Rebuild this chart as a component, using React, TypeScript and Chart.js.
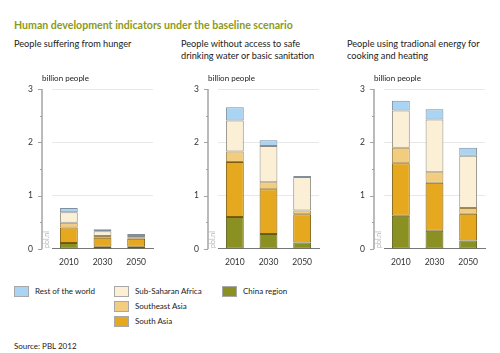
import React, { useEffect, useRef } from "react";
import { Chart, registerables } from "chart.js";

Chart.register(...registerables);

const categories = ["2010", "2030", "2050"];
const seriesNames = ["China region", "South Asia", "Southeast Asia", "Sub-Saharan Africa", "Rest of the world"];

// panel 1: hunger
const hungerChina = [0.11, 0.04, 0.04];
const hungerSouthAsia = [0.29, 0.17, 0.15];
const hungerSEAsia = [0.09, 0.03, 0.03];
const hungerSSA = [0.2, 0.09, 0.02];
const hungerRoW = [0.08, 0.04, 0.04];

// panel 2: water / sanitation
const waterChina = [0.6, 0.28, 0.12];
const waterSouthAsia = [1.03, 0.84, 0.53];
const waterSEAsia = [0.2, 0.13, 0.07];
const waterSSA = [0.58, 0.68, 0.63];
const waterRoW = [0.25, 0.11, 0.02];

// panel 3: traditional energy
const energyChina = [0.62, 0.34, 0.16];
const energySouthAsia = [0.99, 0.9, 0.5];
const energySEAsia = [0.29, 0.2, 0.11];
const energySSA = [0.7, 0.99, 0.98];
const energyRoW = [0.18, 0.19, 0.15];

const yTicks = [0, 1, 2, 3];

const fills = ["#8b9023", "#e6a81e", "#f2cd80", "#fbefd6", "#aad4f3"];
const borders = ["#5c5f18", "#7d5d10", "#a08650", "#8d8a80", "#7f8f9c"];

const FONT = "Lato, 'Open Sans', sans-serif";

const axisPlugin = {
  id: "customAxis",
  afterDraw(chart: any) {
    const { ctx, chartArea, scales } = chart;
    const y = scales.y;
    const x = chartArea.left - 10;
    ctx.save();
    ctx.strokeStyle = "#a3a3a3";
    ctx.lineWidth = 1.5;
    ctx.beginPath();
    ctx.moveTo(x, y.getPixelForValue(0));
    ctx.lineTo(x, y.getPixelForValue(3));
    ctx.stroke();
    ctx.lineWidth = 1;
    for (let v = 0; v <= 3; v += 0.5) {
      const py = Math.round(y.getPixelForValue(v)) + 0.5;
      const len = Number.isInteger(v) ? 4 : 2;
      ctx.beginPath();
      ctx.moveTo(x - len, py);
      ctx.lineTo(x, py);
      ctx.stroke();
    }
    ctx.translate(x + 5, y.getPixelForValue(0) - 1);
    ctx.rotate(-Math.PI / 2);
    ctx.fillStyle = "#b5b5b5";
    ctx.font = "7px " + FONT;
    ctx.textBaseline = "middle";
    ctx.fillText("pbl.nl", 0, 0);
    ctx.restore();
  },
};

function makeChart(canvas: HTMLCanvasElement, data: number[][]) {
  return new Chart(canvas, {
    type: "bar",
    data: {
      labels: categories,
      datasets: data.map((d, i) => ({
        label: seriesNames[i],
        data: d,
        backgroundColor: fills[i],
        borderColor: borders[i],
        borderWidth: 1,
        borderSkipped: false,
        barPercentage: 0.53,
        categoryPercentage: 1,
      })),
    },
    options: {
      animation: false,
      responsive: false,
      devicePixelRatio: 1,
      layout: { autoPadding: false, padding: { top: 9, right: 2, left: 0, bottom: 0 } },
      plugins: { legend: { display: false }, tooltip: { enabled: false } },
      scales: {
        x: {
          stacked: true,
          afterFit: (s: any) => {
            s.height = 24;
          },
          grid: { display: false, drawTicks: false },
          border: { display: true, color: "#777777", width: 1 },
          ticks: { padding: 8, color: "#333", font: { size: 8.5, family: FONT } },
        },
        y: {
          stacked: true,
          min: 0,
          max: 3,
          afterFit: (s: any) => {
            s.width = 42;
          },
          afterBuildTicks: (s: any) => {
            s.ticks = yTicks.map((v) => ({ value: v }));
          },
          border: { display: false },
          grid: {
            drawTicks: false,
            color: (c: any) => (c.tick && c.tick.value === 0 ? "rgba(0,0,0,0)" : "#e8e8e8"),
          },
          ticks: { padding: 19, color: "#333", font: { size: 8.5, family: FONT } },
        },
      },
    },
    plugins: [axisPlugin],
  });
}

const abs = (left: number, top: number, extra: any = {}) => ({
  position: "absolute" as const,
  left,
  top,
  whiteSpace: "nowrap" as const,
  ...extra,
});

export default function App() {
  const c1 = useRef<HTMLCanvasElement>(null);
  const c2 = useRef<HTMLCanvasElement>(null);
  const c3 = useRef<HTMLCanvasElement>(null);

  useEffect(() => {
    const charts = [
      makeChart(c1.current!, [hungerChina, hungerSouthAsia, hungerSEAsia, hungerSSA, hungerRoW]),
      makeChart(c2.current!, [waterChina, waterSouthAsia, waterSEAsia, waterSSA, waterRoW]),
      makeChart(c3.current!, [energyChina, energySouthAsia, energySEAsia, energySSA, energyRoW]),
    ];
    return () => charts.forEach((c) => c.destroy());
  }, []);

  const sub = { fontSize: 9.2, color: "#222", lineHeight: "12px" };
  const small = { fontSize: 8, color: "#222", lineHeight: "10px" };
  const axes = [42, 208, 374];
  const refs = [c1, c2, c3];

  const legend = [
    { i: 4, x: 14, y: 286 },
    { i: 3, x: 114, y: 286 },
    { i: 2, x: 114, y: 301 },
    { i: 1, x: 114, y: 316 },
    { i: 0, x: 222, y: 286 },
  ];

  return (
    <div style={{ position: "absolute", left: 0, top: 0, width: 500, height: 353, background: "#fff", fontFamily: FONT, overflow: "hidden" }}>
      <div style={abs(14, 19, { fontSize: 10.6, fontWeight: 700, color: "#8c9a1a" })}>
        Human development indicators under the baseline scenario
      </div>
      <div style={abs(14, 38, sub)}>People suffering from hunger</div>
      <div style={abs(181, 38, sub)}>
        People without access to safe
        <br />
        drinking water or basic sanitation
      </div>
      <div style={abs(347, 38, sub)}>
        People using tradional energy for
        <br />
        cooking and heating
      </div>
      {axes.map((a, k) => (
        <canvas
          key={"c" + k}
          ref={refs[k]}
          width={145}
          height={208}
          style={{ position: "absolute", left: a - 32, top: 65, width: 145, height: 208 }}
        />
      ))}
      {axes.map((a, k) => (
        <div key={"bp" + k} style={abs(a, 73, small)}>
          billion people
        </div>
      ))}
      {legend.map((l) => (
        <React.Fragment key={"l" + l.i}>
          <div
            style={abs(l.x, l.y, {
              width: 13,
              height: 9,
              background: fills[l.i],
              border: "1px solid #a8a8a8",
            })}
          />
          <div style={abs(l.x + 21, l.y, small)}>{seriesNames[l.i]}</div>
        </React.Fragment>
      ))}
      <div style={abs(14, 341, small)}>Source: PBL 2012</div>
    </div>
  );
}
